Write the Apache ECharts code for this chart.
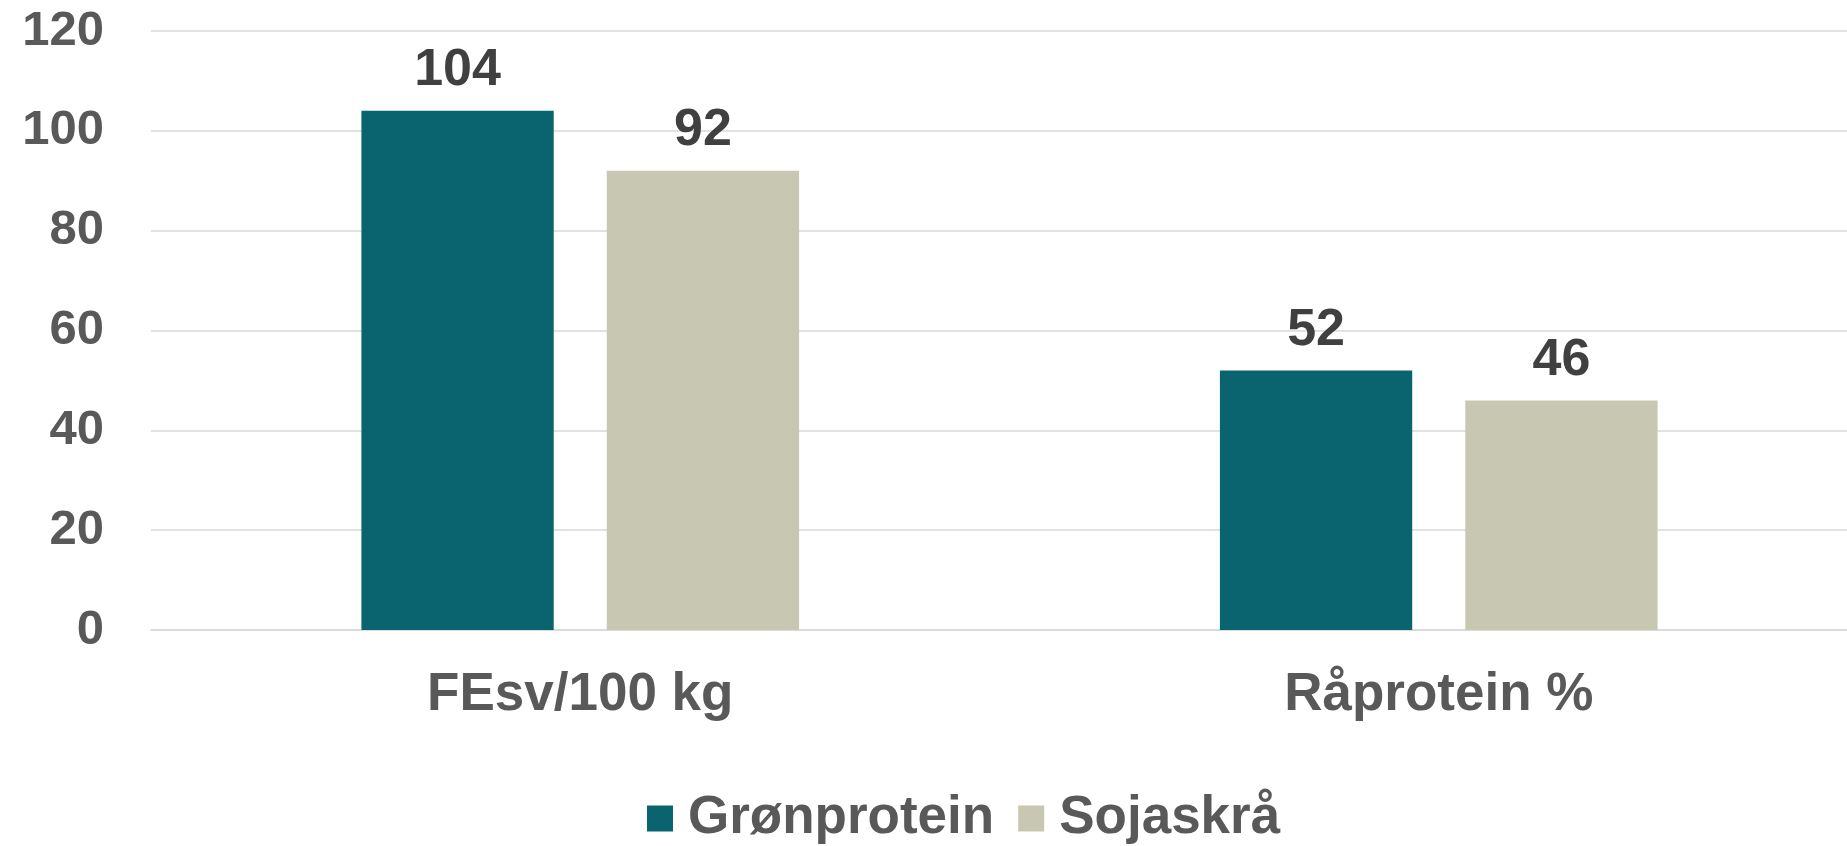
<!DOCTYPE html>
<html>
<head>
<meta charset="utf-8">
<script src="https://cdn.jsdelivr.net/npm/echarts@6/dist/echarts.min.js"></script>
<style>
  html, body { margin: 0; padding: 0; background: #fff; }
  #chart { width: 1847px; height: 846px; }
</style>
</head>
<body>
<div id="chart"></div>
<script>
  const categories = ['FEsv/100 kg', 'Råprotein %'];
  const gronprotein = [104, 52];
  const sojaskraa = [92, 46];
  const seriesNames = ['Grønprotein', 'Sojaskrå'];

  const FONT = '"Liberation Sans", Arial, sans-serif';

  document.addEventListener('DOMContentLoaded', function () {
    const myChart = echarts.init(document.getElementById('chart'));

    const labelStyle = {
      show: true,
      position: 'top',
      distance: 14,
      fontFamily: FONT,
      fontWeight: 'bold',
      fontSize: 52,
      color: '#404040'
    };

    const option = {
      animation: false,
      grid: {
        left: 151,
        width: 1717,   // plot area runs past the right edge
        top: 31,
        bottom: 216,
        outerBoundsMode: 'none'
      },
      legend: {
        left: 642,
        top: 787,
        itemWidth: 26,
        itemHeight: 26,
        itemGap: 24,
        icon: 'rect',
        textStyle: {
          fontFamily: FONT,
          fontWeight: 'bold',
          fontSize: 53,
          color: '#595959',
          padding: [5, 0, 0, 10]
        },
        data: seriesNames
      },
      xAxis: {
        type: 'category',
        data: categories,
        axisLine: { lineStyle: { color: '#d9d9d9', width: 1.5 } },
        axisTick: { show: false },
        axisLabel: {
          fontFamily: FONT,
          fontWeight: 'bold',
          fontSize: 53,
          color: '#595959',
          margin: 39
        }
      },
      yAxis: {
        type: 'value',
        min: 0,
        max: 120,
        interval: 20,
        axisLine: { show: false },
        axisTick: { show: false },
        axisLabel: {
          fontFamily: FONT,
          fontWeight: 'bold',
          fontSize: 49,
          color: '#595959',
          margin: 47
        },
        splitLine: { lineStyle: { color: '#d9d9d9', width: 1.5 } }
      },
      series: [
        {
          name: seriesNames[0],
          type: 'bar',
          data: gronprotein,
          barWidth: '22.4%',
          barGap: '27.6%',
          itemStyle: { color: '#09646F' },
          label: labelStyle
        },
        {
          name: seriesNames[1],
          type: 'bar',
          data: sojaskraa,
          barWidth: '22.4%',
          itemStyle: { color: '#C8C7B1' },
          label: labelStyle
        }
      ]
    };

    myChart.setOption(option);
    window.addEventListener('resize', () => { myChart.resize(); });
  });
</script>
</body>
</html>
